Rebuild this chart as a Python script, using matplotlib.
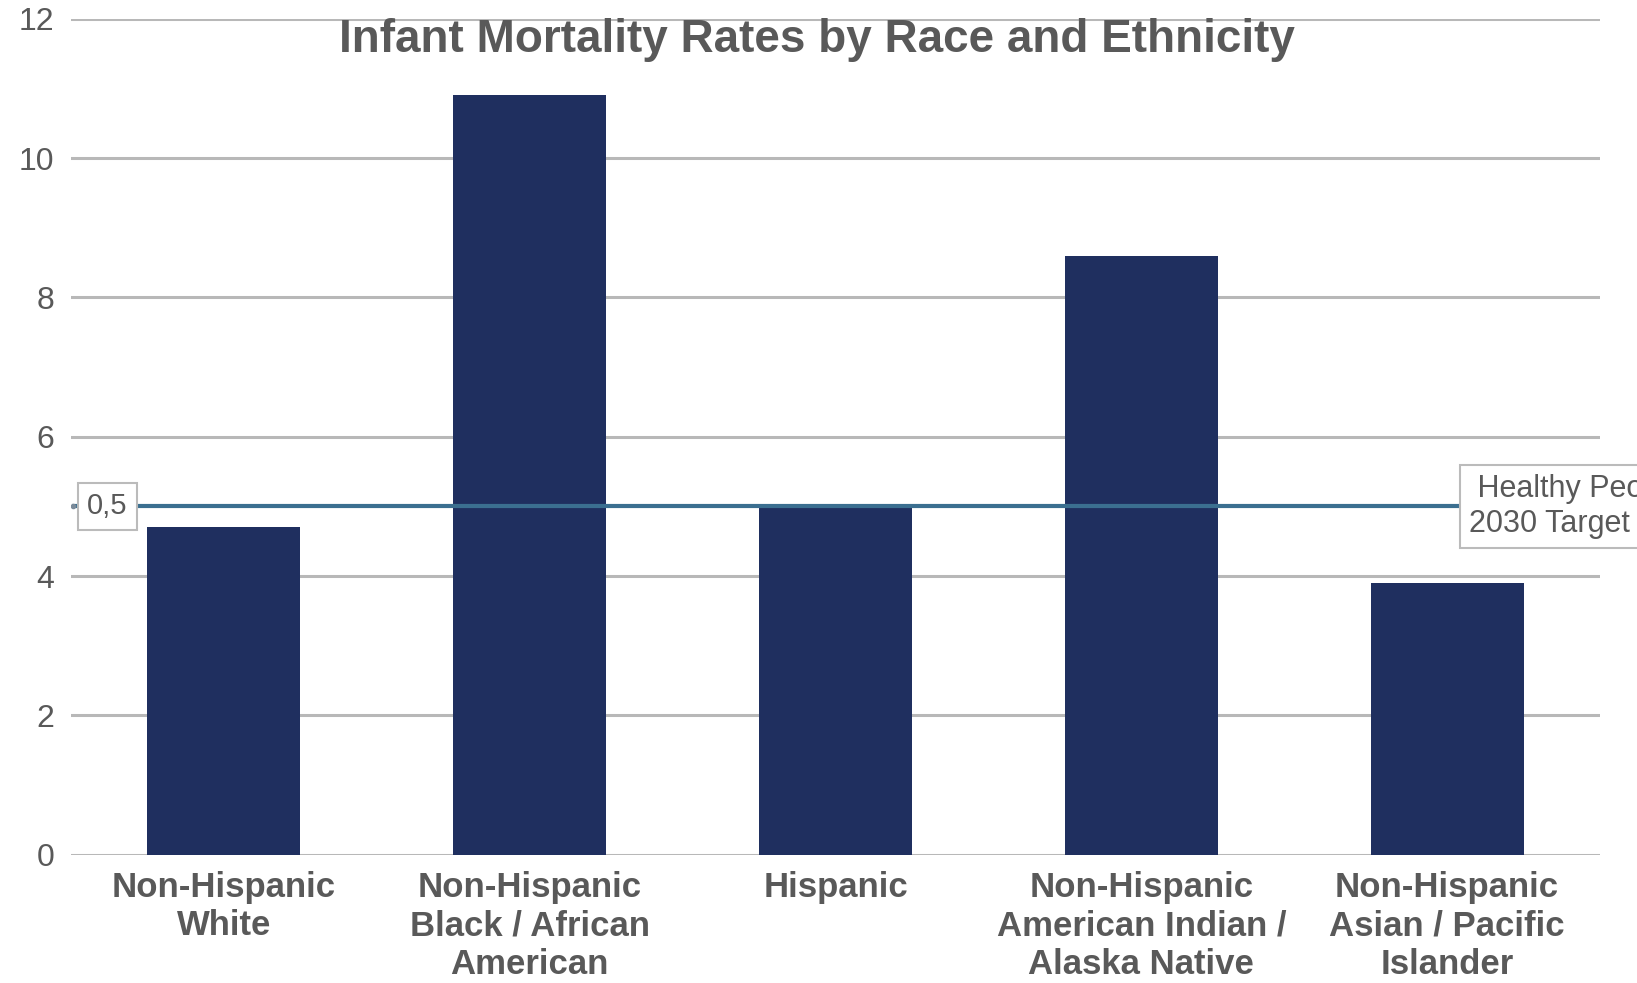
import matplotlib
matplotlib.use("Agg")
import matplotlib.pyplot as plt

# Chart data
groups = [
    "Non-Hispanic\nWhite",
    "Non-Hispanic\nBlack / African\nAmerican",
    "Hispanic",
    "Non-Hispanic\nAmerican Indian /\nAlaska Native",
    "Non-Hispanic\nAsian / Pacific\nIslander",
]
rates = [4.7, 10.9, 5.0, 8.6, 3.9]
target = 5.0
target_label = "0,5"
target_name = " Healthy People\n2030 Target"
y_ticks = [0, 2, 4, 6, 8, 10, 12]

text_grey = "#595959"
bar_color = "#1f2f5f"
line_color = "#3b6f90"

fig = plt.figure(figsize=(16.37, 9.83), dpi=100)
ax = fig.add_axes([0.0434, 0.1306, 0.934, 0.8503])

# Gridlines
for t in y_ticks:
    ax.axhline(t, color="#b8b8b8", lw=2.2, zorder=0)

x = list(range(len(groups)))
ax.bar(x, rates, width=0.5, color=bar_color, zorder=2)

# Target line
ax.axhline(target, xmin=0.002, xmax=0.91, color=line_color, lw=3, zorder=3)
ax.plot([-0.495], [target], "o", ms=3, color="#7a8a99", zorder=3)

ax.set_xlim(-0.5, 4.5)
ax.set_ylim(0, 12)
ax.set_yticks(y_ticks)
ax.set_yticklabels([str(t) for t in y_ticks], fontsize=23, color=text_grey,
                   family=["Liberation Sans", "DejaVu Sans"])
ax.set_xticks(x)
ax.set_xticklabels(groups, fontsize=25, color=text_grey, fontweight="bold",
                   linespacing=1.2, family=["Liberation Sans Narrow", "Liberation Sans", "DejaVu Sans"])
ax.tick_params(axis="both", length=0)
ax.tick_params(axis="y", pad=12)
ax.tick_params(axis="x", pad=12)
for s in ax.spines.values():
    s.set_visible(False)

box = dict(boxstyle="square,pad=0.32", fc="white", ec="#bbbbbb", lw=1.5)
ax.annotate(target_label, xy=(0, target), xycoords=("axes fraction", "data"),
            xytext=(26, 0), textcoords="offset points", ha="center", va="center",
            fontsize=21, color=text_grey, bbox=box, zorder=5,
            family=["Liberation Sans", "DejaVu Sans"])
ax.annotate(target_name, xy=(0.909, target), xycoords=("axes fraction", "data"),
            xytext=(6, 0), textcoords="offset points", ha="left", va="center",
            fontsize=22, color=text_grey, linespacing=1.2, multialignment="left",
            bbox=dict(boxstyle="square,pad=0.3", fc="white", ec="#bbbbbb", lw=1.5),
            zorder=5, annotation_clip=False,
            family=["Liberation Sans", "DejaVu Sans"])

fig.text(0.499, 1 - 52 / 983, "Infant Mortality Rates by Race and Ethnicity",
         ha="center", va="baseline", fontsize=33, fontweight="bold", color=text_grey,
         family=["Liberation Sans Narrow", "Liberation Sans", "DejaVu Sans"])

fig.savefig("out.png", dpi=100)
